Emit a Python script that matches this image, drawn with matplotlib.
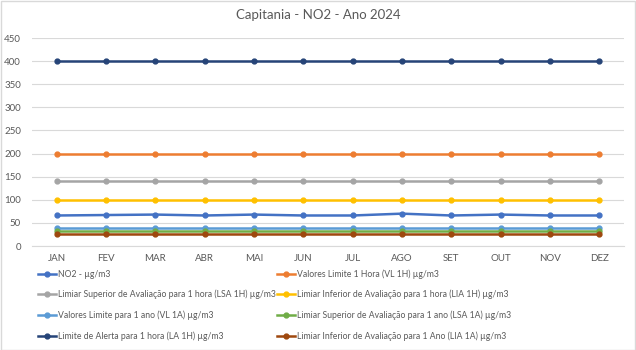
import matplotlib.pyplot as plt
from matplotlib.patches import Rectangle

plt.rcParams['font.family'] = ['Lato', 'DejaVu Sans']

months = ["JAN", "FEV", "MAR", "ABR", "MAI", "JUN", "JUL", "AGO", "SET", "OUT", "NOV", "DEZ"]

no2 = [66, 67, 68, 66, 68, 66, 66, 70, 66, 68, 66, 66]
vl_1h = [200] * 12
lsa_1h = [140] * 12
lia_1h = [100] * 12
vl_1a = [40] * 12
lsa_1a = [32] * 12
la_1h = [400] * 12
lia_1a = [26] * 12

series = [
    ("NO2 - µg/m3", no2, "#4472C4"),
    ("Valores Limite 1 Hora (VL 1H) µg/m3", vl_1h, "#ED7D31"),
    ("Limiar Superior de Avaliação para 1 hora (LSA 1H) µg/m3", lsa_1h, "#A5A5A5"),
    ("Limiar Inferior de Avaliação para 1 hora (LIA 1H) µg/m3", lia_1h, "#FFC000"),
    ("Valores Limite para 1 ano (VL 1A) µg/m3", vl_1a, "#5B9BD5"),
    ("Limiar Superior de Avaliação para 1 ano (LSA 1A) µg/m3", lsa_1a, "#70AD47"),
    ("Limite de Alerta para 1 hora (LA 1H) µg/m3", la_1h, "#264478"),
    ("Limiar Inferior de Avaliação para 1 Ano (LIA 1A) µg/m3", lia_1a, "#9E480E"),
]

fig = plt.figure(figsize=(6.36, 3.5), dpi=100)
ax = fig.add_axes([32 / 636, 1 - 246 / 350, 592 / 636, 208 / 350])

x = range(len(months))
handles = []
for label, vals, color in series:
    h, = ax.plot(x, vals, color=color, lw=1.8, marker="o", ms=3.5, label=label, zorder=3)
    handles.append(h)

ax.set_xlim(-0.5, len(months) - 0.5)
ax.set_ylim(0, 450)
ax.set_yticks(range(0, 451, 50))
ax.set_xticks(list(x))
ax.set_xticklabels(months)
ax.grid(axis="y", color="#D9D9D9", lw=0.8)
ax.set_axisbelow(True)
for s in ["top", "right", "left"]:
    ax.spines[s].set_visible(False)
ax.spines["bottom"].set_color("#D9D9D9")
ax.tick_params(length=0, labelsize=7, colors="#595959", pad=6)
ax.tick_params(axis="y", pad=8)

fig.text(0.5, 1 - 15 / 350, "Capitania - NO2 - Ano 2024", ha="center", va="center",
         fontsize=9.5, color="#595959")

# legend filled row-wise like Excel
order = [0, 2, 4, 6, 1, 3, 5, 7]
leg = fig.legend([handles[i] for i in order], [series[i][0] for i in order],
                 ncol=2, loc="upper left", bbox_to_anchor=(38 / 636, 1 - 269 / 350),
                 frameon=False, fontsize=6.2, handlelength=2.1, handletextpad=0.2,
                 columnspacing=0.2, labelspacing=1.3, borderpad=0, borderaxespad=0)
for t in leg.get_texts():
    t.set_color("#595959")

fig.patches.append(Rectangle((0.5 / 636, 0.5 / 350), 1 - 1.5 / 636, 1 - 1.5 / 350,
                             transform=fig.transFigure, fill=False, ec="#D9D9D9", lw=1))

fig.savefig("out.png", dpi=100)
